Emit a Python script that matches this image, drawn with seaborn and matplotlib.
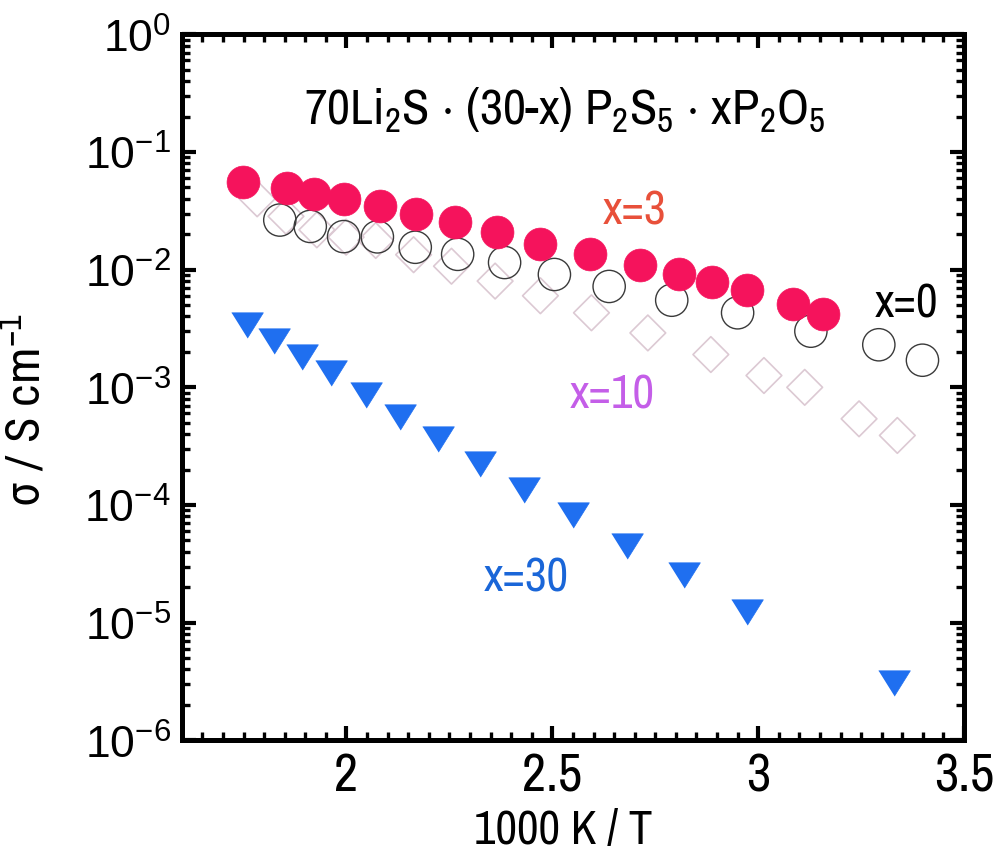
import matplotlib
matplotlib.use("Agg")
import matplotlib.pyplot as plt
import matplotlib.ticker as mticker
import seaborn as sns
import numpy as np

# ---- data ----
x0 = [1.838, 1.912, 1.993, 2.075, 2.167, 2.270, 2.384, 2.505, 2.638, 2.790, 2.950, 3.128, 3.293, 3.399]
y0 = [0.0264, 0.0233, 0.0191, 0.0190, 0.0155, 0.0135, 0.0115, 0.0091, 0.0072, 0.0055, 0.0043, 0.0030, 0.0023, 0.0017]

x3 = [1.749, 1.856, 1.922, 1.994, 2.081, 2.168, 2.264, 2.366, 2.469, 2.592, 2.712, 2.807, 2.888, 2.973, 3.084, 3.157]
y3 = [0.0553, 0.0492, 0.0441, 0.0402, 0.0348, 0.0298, 0.0253, 0.0207, 0.0166, 0.0136, 0.0110, 0.0092, 0.0078, 0.0067, 0.0051, 0.0042]

x10 = [1.783, 1.853, 1.928, 1.999, 2.071, 2.163, 2.255, 2.361, 2.471, 2.595, 2.732, 2.885, 3.014, 3.113, 3.245, 3.338]
y10 = [0.0400, 0.0284, 0.0218, 0.0189, 0.0177, 0.0134, 0.0107, 0.0080, 0.0060, 0.0043, 0.0029, 0.0019, 0.00126, 0.00100, 0.00054, 0.00039]

x30 = [1.759, 1.824, 1.891, 1.963, 2.048, 2.130, 2.223, 2.325, 2.432, 2.550, 2.681, 2.819, 2.973, 3.329]
y30 = [3.36e-3, 2.46e-3, 1.82e-3, 1.33e-3, 8.65e-4, 5.58e-4, 3.64e-4, 2.21e-4, 1.34e-4, 8.26e-5, 4.49e-5, 2.53e-5, 1.22e-5, 3.06e-6]

x_ticks = [2, 2.5, 3, 3.5]
x_tick_labels = ["2", "2.5", "3", "3.5"]
series_labels = ["x=0", "x=3", "x=10", "x=30"]
title_text = (r"70Li$_\mathsf{2}$S $\cdot$ (30-x) P$_\mathsf{2}$S$_\mathsf{5}$"
              r" $\cdot$ xP$_\mathsf{2}$O$_\mathsf{5}$")

# ---- style ----
sns.set_theme(style="ticks")
narrow = ["Archivo Narrow", "Roboto Condensed", "Liberation Sans", "DejaVu Sans"]
plt.rcParams["font.family"] = narrow
plt.rcParams["mathtext.fontset"] = "custom"
plt.rcParams["mathtext.rm"] = "Liberation Sans"
plt.rcParams["mathtext.it"] = "Liberation Sans:italic"
plt.rcParams["mathtext.sf"] = "Archivo Narrow"
plt.rcParams.update({
    "xtick.direction": "in", "ytick.direction": "in",
    "xtick.top": True, "ytick.right": True,
    "xtick.color": "black", "ytick.color": "black",
    "axes.axisbelow": False,
    "axes.linewidth": 3.6, "axes.edgecolor": "black",
    "text.color": "black", "axes.labelcolor": "black",
})

fig = plt.figure(figsize=(9.99, 8.62), dpi=100)
ax = fig.add_axes([0.182, 0.140, 0.783, 0.819])

tri = [(-1, 0.8), (1, 0.8), (0, -0.8)]

sns.scatterplot(x=x10, y=y10, ax=ax, marker="D", s=330, facecolors="none",
                edgecolor="#dcc9d3", linewidth=1.2, zorder=2)
sns.scatterplot(x=x0, y=y0, ax=ax, marker="o", s=540, facecolors="none",
                edgecolor="#3a3a3a", linewidth=1.0, zorder=3)
sns.scatterplot(x=x3, y=y3, ax=ax, marker="o", s=560, color="#f5135c",
                edgecolor="#f5135c", linewidth=0.5, zorder=4)
sns.scatterplot(x=x30, y=y30, ax=ax, marker=tri, s=520, color="#1f6ff0",
                edgecolor="#1f6ff0", linewidth=0.5, zorder=4)

ax.set_yscale("log")
ax.set_xlim(1.6, 3.5)
ax.set_ylim(1e-6, 1)

ax.set_xticks(x_ticks)
ax.set_xticklabels(x_tick_labels)
ax.xaxis.set_minor_locator(mticker.MultipleLocator(0.05))
ax.yaxis.set_major_locator(mticker.LogLocator(base=10, numticks=10))
ax.yaxis.set_minor_locator(mticker.LogLocator(base=10, subs=np.arange(2, 10), numticks=20))
ax.yaxis.set_minor_formatter(mticker.NullFormatter())

for s in ax.spines.values():
    s.set_linewidth(3.6)
    s.set_color("black")

ax.tick_params(which="both", direction="in", bottom=True, top=True, left=True, right=True,
               color="black")
ax.tick_params(which="major", length=10, width=3.0)
ax.tick_params(which="minor", length=6, width=2.4)
ax.tick_params(axis="x", which="major", labelsize=38, pad=8)
ax.tick_params(axis="y", which="major", labelsize=32, pad=8)
for lab in ax.get_yticklabels():
    lab.set_fontfamily(["Liberation Sans", "DejaVu Sans"])

ax.set_xlabel("1000 K / T", fontsize=34, va="center")
ax.xaxis.set_label_coords(0.487, -0.127)
ax.set_ylabel(r"σ / S cm$^\mathsf{-1}$", fontsize=35,
              family=["Roboto Condensed", "DejaVu Sans"])
ax.yaxis.set_label_coords(-0.168, 0.47)

ax.text(2.53, 0.235, title_text, fontsize=36, ha="center", va="center", color="black")
ax.text(2.70, 0.032, series_labels[1], fontsize=34, ha="center", va="center", color="#e8503a")
ax.text(3.36, 0.0052, series_labels[0], fontsize=34, ha="center", va="center", color="black")
ax.text(2.645, 0.00088, series_labels[2], fontsize=34, ha="center", va="center", color="#c45ee8")
ax.text(2.436, 2.42e-5, series_labels[3], fontsize=34, ha="center", va="center", color="#1a66d8")

fig.savefig("out.png", dpi=100)
